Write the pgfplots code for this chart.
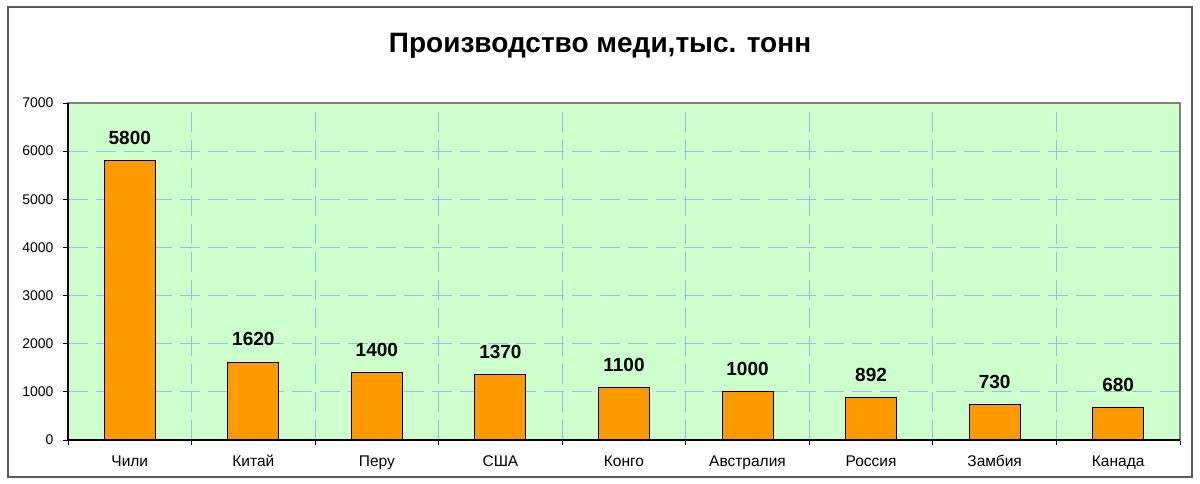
\documentclass[border=0pt]{standalone}
\usepackage{fontspec}
\setmainfont{Liberation Sans}
\usepackage{pgfplots}
\pgfplotsset{compat=1.18}

\definecolor{plotbg}{HTML}{CCFFCC}
\definecolor{barfill}{HTML}{FF9900}
\definecolor{gridblue}{HTML}{94BCE4}

\begin{document}
\begin{tikzpicture}[x=1pt,y=1pt]
\path (0,0) rectangle (1200,483);
\draw[black!65, line width=1.3pt] (8,6) rectangle (1192,476);
\node[font=\bfseries\fontsize{28}{32}\selectfont] at (600,437) {Производство меди,тыс. тонн};

\begin{axis}[
    at={(68pt,43pt)}, anchor=south west,
    scale only axis,
    width=1112pt, height=337pt,
    xmin=-0.5, xmax=8.5,
    ymin=0, ymax=7000,
    axis background/.style={fill=plotbg},
    axis line style={draw=black!50, line width=1.4pt},
    /pgf/number format/assume math mode=true,
    /pgf/number format/1000 sep={},
    tick style={black, line width=0.8pt},
    tick align=outside,
    xtick pos=bottom, ytick pos=left,
    ytick={0,1000,...,7000},
    xtick={0,...,8},
    xticklabels={Чили,Китай,Перу,США,Конго,Австралия,Россия,Замбия,Канада},
    major x tick style={draw=none},
    minor xtick={-0.5,0.5,...,8.5},
    minor tick length=5pt,
    major tick length=5pt,
    ymajorgrids=true, xminorgrids=true,
    grid style={gridblue, line width=1.1pt, dash pattern=on 20pt off 8pt},
    yticklabel style={font=\fontsize{14}{16}\selectfont, xshift=-6pt},
    xticklabel style={font=\fontsize{15.5}{18}\selectfont, text height=1.6ex, text depth=0.3ex, yshift=-10pt},
    ybar, bar width=51pt,
    nodes near coords,
    every node near coord/.append style={font=\bfseries\fontsize{19}{22}\selectfont, yshift=12pt, black},
    clip=false,
]
\addplot[fill=barfill, draw=black, line width=1pt]
    coordinates {(0,5800)(1,1620)(2,1400)(3,1370)(4,1100)(5,1000)(6,892)(7,730)(8,680)};
\draw[black, line width=1.4pt] (rel axis cs:0,1) -- (rel axis cs:0,0) -- (rel axis cs:1,0);
\end{axis}
\end{tikzpicture}
\end{document}
